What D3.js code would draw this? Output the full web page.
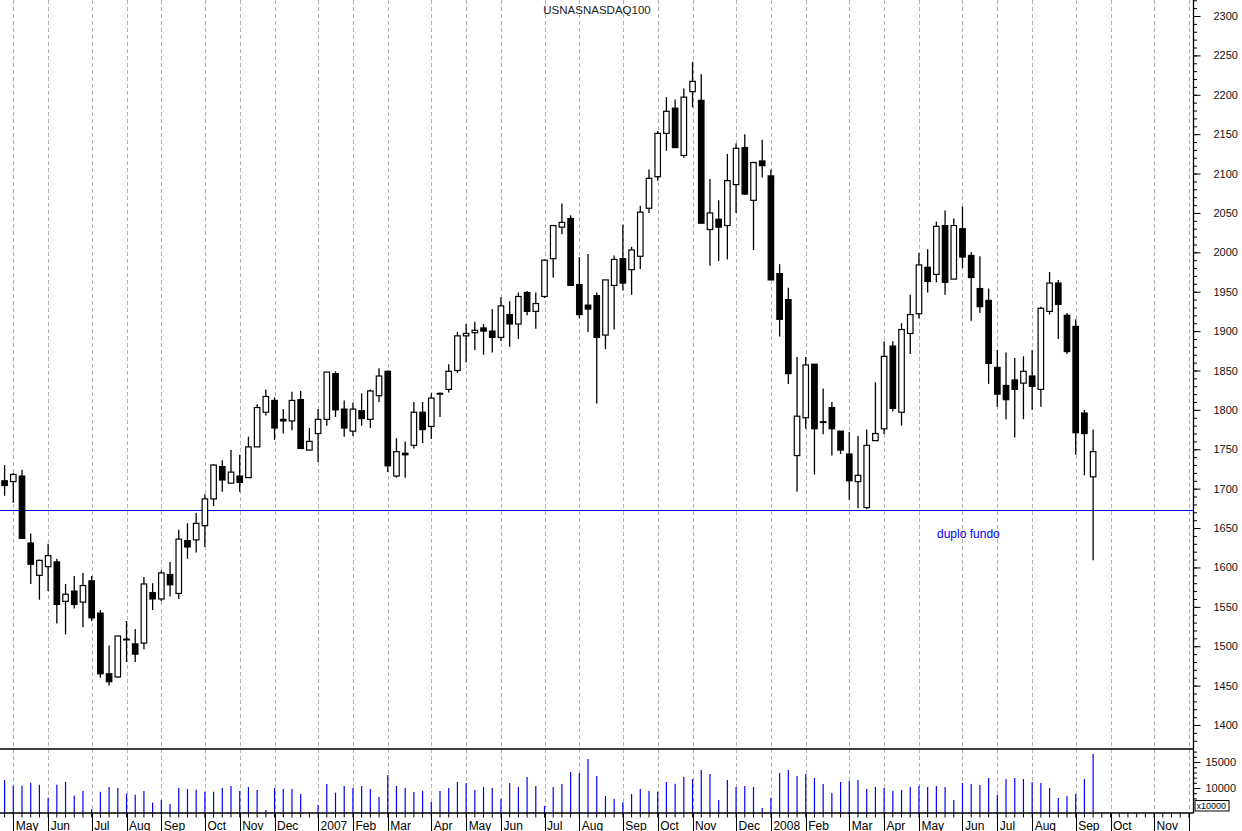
<!DOCTYPE html>
<html><head><meta charset="utf-8">
<script src="https://cdn.jsdelivr.net/npm/d3@7"></script>
<style>body{margin:0;background:#fff}svg{display:block}text{font-family:Arial,"Liberation Sans",sans-serif}</style>
</head><body><svg id="c" width="1242" height="831"></svg>
<script>
const title = "USNASNASDAQ100";
const firstWeek = "2006-04-28", lastWeek = "2008-09-19"; // weekly bars, dated Fridays
const open  = [1710,1709,1716,1631,1590,1601,1607,1557,1570,1556,1583,1542,1465,1461,1509,1503,1504,1568,1560,1591,1567,1634,1635,1653,1687,1728,1707,1716,1714,1753,1797,1812,1788,1786,1813,1749,1770,1788,1846,1801,1773,1799,1788,1818,1849,1716,1745,1755,1797,1779,1820,1826,1850,1894,1898,1904,1900,1892,1921,1909,1949,1925,1944,1992,2032,2043,1959,1933,1945,1895,1958,1992,1978,1995,2056,2096,2151,2183,2123,2204,2193,2029,2042,2034,2086,2133,2066,2116,2097,1973,1940,1742,1790,1858,1785,1803,1773,1744,1709,1676,1761,1776,1881,1797,1897,1922,1981,1972,2034,1966,2030,1996,1954,1939,1854,1831,1838,1834,1843,1826,1925,1961,1920,1906,1796,1715];
const high  = [1730,1720,1724,1643,1610,1630,1611,1579,1589,1593,1589,1546,1501,1513,1532,1522,1588,1580,1596,1607,1648,1656,1669,1693,1731,1736,1749,1743,1766,1807,1826,1816,1801,1823,1824,1777,1801,1848,1849,1812,1809,1821,1826,1853,1850,1764,1760,1810,1810,1821,1822,1858,1899,1909,1912,1909,1928,1943,1938,1949,1951,1949,1991,2034,2062,2047,1994,1998,1949,1965,1996,2035,2007,2059,2105,2154,2197,2194,2208,2242,2226,2093,2066,2125,2138,2150,2115,2143,2105,1985,1955,1867,1867,1858,1827,1810,1773,1772,1767,1775,1835,1887,1887,1910,1946,1999,2004,2039,2053,2043,2058,2000,1995,1954,1876,1873,1866,1868,1876,1931,1975,1965,1923,1915,1800,1775];
const low   = [1691,1682,1636,1579,1559,1570,1529,1515,1548,1524,1532,1460,1450,1460,1480,1480,1496,1546,1557,1563,1560,1611,1619,1626,1678,1696,1707,1696,1714,1753,1793,1762,1770,1774,1751,1749,1734,1780,1791,1766,1767,1780,1777,1810,1721,1714,1714,1751,1758,1763,1791,1822,1847,1860,1876,1870,1873,1887,1880,1890,1920,1903,1942,1968,2023,1958,1916,1899,1808,1877,1902,1952,1946,1979,2050,2091,2129,2133,2120,2184,2037,1983,1989,1991,2050,2073,2003,2095,1965,1893,1833,1696,1776,1718,1769,1742,1744,1686,1675,1674,1761,1769,1798,1780,1871,1916,1949,1962,1946,1966,1980,1913,1923,1833,1804,1788,1765,1788,1800,1804,1921,1890,1871,1743,1717,1609];
const close = [1704,1718,1637,1604,1609,1615,1553,1566,1553,1577,1536,1465,1455,1513,1508,1490,1579,1560,1593,1578,1636,1626,1656,1687,1730,1711,1721,1708,1753,1803,1817,1777,1786,1812,1751,1760,1788,1848,1800,1777,1801,1789,1824,1843,1729,1747,1743,1797,1775,1815,1821,1849,1894,1897,1901,1900,1892,1932,1909,1944,1925,1935,1990,2034,2038,1958,1921,1928,1892,1965,1991,1961,2003,2051,2094,2151,2179,2133,2197,2217,2037,2050,2032,2091,2132,2074,2114,2110,1965,1915,1846,1792,1857,1776,1784,1776,1749,1710,1717,1755,1770,1868,1802,1902,1921,1984,1963,2033,1962,2034,1994,1968,1931,1859,1820,1813,1826,1849,1830,1929,1961,1934,1874,1771,1770,1747];
const volume = [11550,10450,10450,11030,10640,8140,10640,11160,8530,9430,5970,9300,10200,10010,8910,8720,9430,7180,7700,6930,10010,9820,9680,9300,9300,10010,10390,9430,10200,9620,5780,10010,9820,9820,8850,5400,6740,10780,9100,10390,10010,10390,9820,8280,12510,10390,10010,9240,9430,7320,9430,10010,11160,10970,9620,10200,10010,7890,10970,10200,12120,10390,6550,10200,10780,13080,12890,15580,12320,8470,7890,7320,8850,9820,9430,9300,11160,10840,12120,11740,13470,12700,7700,11550,10200,10390,10200,6160,8140,12890,13470,12320,12700,11930,10780,9050,11160,11350,11550,9820,10200,10010,9430,9620,10200,10390,10200,10390,10200,7700,10970,10780,10590,11930,8660,11740,11930,11740,11160,10970,10010,8090,8470,8850,11740,16550];
const monthLabels = ["May","Jun","Jul","Aug","Sep","Oct","Nov","Dec","2007","Feb","Mar","Apr","May","Jun","Jul","Aug","Sep","Oct","Nov","Dec","2008","Feb","Mar","Apr","May","Jun","Jul","Aug","Sep","Oct","Nov"];
const priceTickLabels = [1400,1450,1500,1550,1600,1650,1700,1750,1800,1850,1900,1950,2000,2050,2100,2150,2200,2250,2300];
const volumeTickLabels = [10000,15000];
const volumeUnit = "x10000";
const supportLevel = 1673;
const supportNote = "duplo fundo";

const W = 1242, H = 831;
const plotR = 1193.5, priceBottom = 749, volBottom = 813;
const svg = d3.select("#c");
svg.append("rect").attr("width",W).attr("height",H).attr("fill","#fff");

const parse = d3.utcParse("%Y-%m-%d");
const weeks = d3.utcFriday.range(parse(firstWeek), d3.utcDay.offset(parse(lastWeek),1));
const axisWeeks = d3.utcFriday.range(parse(firstWeek), parse("2008-12-31"));

const x = d3.scaleUtc().domain([parse("2006-05-05"), parse("2008-09-05")]).range([13.3, 1075.7]);
const y = d3.scaleLinear().domain([1400,2300]).range([725,16]);
const yv = d3.scaleLinear().domain([5200,17700]).range([volBottom,748]);

const visWeeks = axisWeeks.filter(d => x(d) < plotR);
const monthStarts = visWeeks.filter((d,i) => i>0 && d.getUTCMonth() !== visWeeks[i-1].getUTCMonth());

// grid
svg.append("g").selectAll("line").data(monthStarts).join("line")
  .attr("x1", d=>Math.round(x(d))+0.5).attr("x2", d=>Math.round(x(d))+0.5)
  .attr("y1",0).attr("y2",volBottom)
  .attr("stroke","#b0b0b0").attr("stroke-width",1).attr("stroke-dasharray","4,3");

// clip
svg.append("clipPath").attr("id","pc").append("rect").attr("x",0).attr("y",0).attr("width",plotR).attr("height",priceBottom);
const pg = svg.append("g").attr("clip-path","url(#pc)");

// support line
const sy = Math.round(y(supportLevel))+0.5;
pg.append("line").attr("x1",0).attr("x2",plotR).attr("y1",sy).attr("y2",sy)
  .attr("stroke","#0000ff").attr("stroke-width",1.1);

const data = weeks.map((d,i)=>({d, o:open[i], h:high[i], l:low[i], c:close[i], v:volume[i]}));

// candles
const cg = pg.append("g");
cg.selectAll("line").data(data).join("line")
  .attr("x1",d=>x(d.d)).attr("x2",d=>x(d.d))
  .attr("y1",d=>y(d.h)).attr("y2",d=>y(d.l))
  .attr("stroke","#000").attr("stroke-width",1.3);
cg.selectAll("rect").data(data).join("rect")
  .attr("x",d=>x(d.d)-2.75).attr("width",5.5)
  .attr("y",d=>y(Math.max(d.o,d.c)))
  .attr("height",d=>Math.max(Math.abs(y(d.o)-y(d.c)),0.6))
  .attr("fill",d=>d.c<d.o?"#000":"#fff")
  .attr("stroke","#000").attr("stroke-width",1.2);

// note
svg.append("text").attr("x",937).attr("y",538).attr("font-size",12).attr("fill","#0000ff").text(supportNote);

// title
svg.append("text").attr("x",597).attr("y",14).attr("text-anchor","middle").attr("font-size",11.5).attr("fill","#222").text(title);

// volume bars
svg.append("g").selectAll("line").data(data).join("line")
  .attr("x1",d=>x(d.d)).attr("x2",d=>x(d.d))
  .attr("y1",volBottom).attr("y2",d=>Math.min(yv(d.v),volBottom))
  .attr("stroke","#0000ff").attr("stroke-width",1.2);

// panel lines
svg.append("line").attr("x1",0).attr("x2",plotR).attr("y1",priceBottom).attr("y2",priceBottom).attr("stroke","#000").attr("stroke-width",1.3);
svg.append("line").attr("x1",0).attr("x2",plotR).attr("y1",volBottom).attr("y2",volBottom).attr("stroke","#000").attr("stroke-width",1.3);
svg.append("line").attr("x1",plotR).attr("x2",plotR).attr("y1",0).attr("y2",volBottom).attr("stroke","#000").attr("stroke-width",1.3);

// price axis
const minorP = d3.range(1370, 2321, 10).filter(v=>y(v)>=0 && y(v)<=priceBottom-4);
const pa = svg.append("g").attr("transform",`translate(${plotR},0)`);
pa.call(d3.axisRight(y).tickValues(minorP).tickSize(3.5).tickFormat(""));
pa.call(g=>g.select(".domain").remove());
const pa2 = svg.append("g").attr("transform",`translate(${plotR},0)`);
pa2.call(d3.axisRight(y).tickValues(priceTickLabels).tickSize(7).tickPadding(13).tickFormat(d3.format("d")));
pa2.select(".domain").remove();
svg.selectAll(".tick line").attr("stroke","#000").attr("stroke-width",1);
pa2.selectAll("text").attr("font-size",11).attr("font-family","Arial, 'Liberation Sans', sans-serif").attr("fill","#111");

// volume axis
const va = svg.append("g").attr("transform",`translate(${plotR},0)`);
va.call(d3.axisRight(yv).tickValues(d3.range(6000,17001,1000).filter(v=>yv(v)<800)).tickSize(3.5).tickFormat(""));
va.select(".domain").remove();
const va2 = svg.append("g").attr("transform",`translate(${plotR},0)`);
va2.call(d3.axisRight(yv).tickValues(volumeTickLabels).tickSize(7).tickPadding(5).tickFormat(d3.format("d")));
va2.select(".domain").remove();
va.selectAll(".tick line").attr("stroke","#000");
va2.selectAll(".tick line").attr("stroke","#000");
va2.selectAll("text").attr("font-size",11).attr("font-family","Arial, 'Liberation Sans', sans-serif").attr("fill","#111");

svg.append("rect").attr("x",1195).attr("y",800.5).attr("width",34).attr("height",10.5).attr("fill","#fff").attr("stroke","#000").attr("stroke-width",1);
svg.append("text").attr("x",1196.5).attr("y",809.3).attr("font-size",9).attr("fill","#000").text(volumeUnit);

// time axis
svg.append("g").selectAll("line").data(visWeeks).join("line")
  .attr("x1",d=>x(d)).attr("x2",d=>x(d)).attr("y1",volBottom).attr("y2",volBottom+4.5)
  .attr("stroke","#000").attr("stroke-width",1);
svg.append("g").selectAll("line").data(monthStarts).join("line")
  .attr("x1",d=>Math.round(x(d))+0.5).attr("x2",d=>Math.round(x(d))+0.5).attr("y1",volBottom).attr("y2",H)
  .attr("stroke","#000").attr("stroke-width",1);
svg.append("g").selectAll("text").data(monthStarts.slice(0, monthLabels.length)).join("text")
  .attr("x",d=>x(d)+2.5).attr("y",829.5).attr("font-size",12).attr("fill","#000")
  .text((d,i)=>monthLabels[i]);
</script></body></html>
